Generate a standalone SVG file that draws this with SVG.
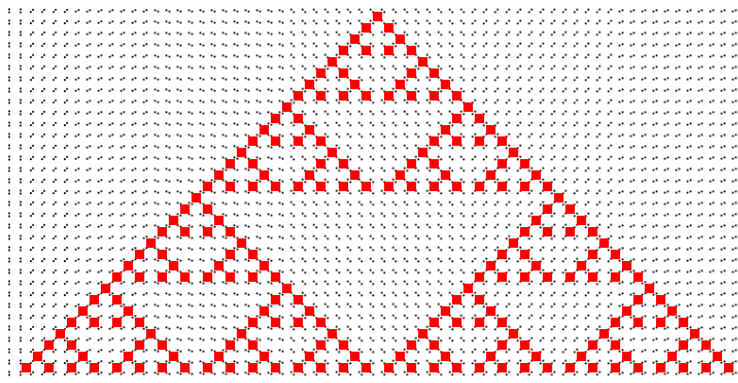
<svg xmlns="http://www.w3.org/2000/svg" xmlns:xlink="http://www.w3.org/1999/xlink" width="738" height="383" viewBox="0 0 738 383">
<style>
.dot{fill:#000}
.cell{fill:#ff0000}
</style>
<defs>
<pattern id="pA" patternUnits="userSpaceOnUse" x="3.6" y="5.17" width="11.33" height="11.33"><rect class="dot" x="4.765" y="3.265" width="1.8" height="1.8"/><rect class="dot" x="4.765" y="6.265" width="1.8" height="1.8"/></pattern>
<pattern id="pB" patternUnits="userSpaceOnUse" x="3.6" y="5.17" width="11.33" height="11.33"><rect class="dot" x="3.665" y="5.865" width="1.8" height="1.8"/><rect class="dot" x="5.865" y="3.665" width="1.8" height="1.8"/></pattern>
<pattern id="pC" patternUnits="userSpaceOnUse" x="3.6" y="5.17" width="11.33" height="11.33"><rect class="dot" x="3.365" y="5.465" width="1.8" height="1.8"/><rect class="dot" x="6.165" y="4.065" width="1.8" height="1.8"/></pattern>
<pattern id="pD" patternUnits="userSpaceOnUse" x="3.6" y="5.17" width="11.33" height="11.33"><rect class="dot" x="3.265" y="4.165" width="1.8" height="1.8"/><rect class="dot" x="6.265" y="5.365" width="1.8" height="1.8"/></pattern>
<pattern id="pE" patternUnits="userSpaceOnUse" x="3.6" y="5.17" width="11.33" height="11.33"><rect class="dot" x="3.465" y="3.465" width="1.8" height="1.8"/><rect class="dot" x="6.065" y="6.065" width="1.8" height="1.8"/></pattern>
<pattern id="pF" patternUnits="userSpaceOnUse" x="3.6" y="5.17" width="11.33" height="11.33"><rect class="dot" x="3.465" y="6.065" width="1.8" height="1.8"/><rect class="dot" x="6.065" y="3.465" width="1.8" height="1.8"/></pattern>
<pattern id="pG" patternUnits="userSpaceOnUse" x="3.6" y="5.17" width="11.33" height="11.33"><rect class="dot" x="3.265" y="5.365" width="1.8" height="1.8"/><rect class="dot" x="6.265" y="4.165" width="1.8" height="1.8"/></pattern>
<rect id="t0" class="cell" x="-4.7" y="-4.7" width="9.4" height="9.4"/>
<g id="t1"><use xlink:href="#t0" href="#t0"/><use xlink:href="#t0" href="#t0" x="-11.33" y="11.33"/><use xlink:href="#t0" href="#t0" x="11.33" y="11.33"/></g>
<g id="t2"><use xlink:href="#t1" href="#t1"/><use xlink:href="#t1" href="#t1" x="-22.66" y="22.66"/><use xlink:href="#t1" href="#t1" x="22.66" y="22.66"/></g>
<g id="t3"><use xlink:href="#t2" href="#t2"/><use xlink:href="#t2" href="#t2" x="-45.32" y="45.32"/><use xlink:href="#t2" href="#t2" x="45.32" y="45.32"/></g>
<g id="t4"><use xlink:href="#t3" href="#t3"/><use xlink:href="#t3" href="#t3" x="-90.64" y="90.64"/><use xlink:href="#t3" href="#t3" x="90.64" y="90.64"/></g>
<g id="t5"><use xlink:href="#t4" href="#t4"/><use xlink:href="#t4" href="#t4" x="-181.28" y="181.28"/><use xlink:href="#t4" href="#t4" x="181.28" y="181.28"/></g>
</defs>
<rect width="738" height="383" fill="#ffffff"/>
<g id="grid-dots">
<rect x="0" y="5" width="26.26" height="374" fill="url(#pA)"/>
<rect x="26.26" y="5" width="45.32" height="374" fill="url(#pB)"/>
<rect x="71.58" y="5" width="79.32" height="374" fill="url(#pC)"/>
<rect x="150.9" y="5" width="135.9" height="374" fill="url(#pD)"/>
<rect x="286.8" y="5" width="181.3" height="374" fill="url(#pE)"/>
<rect x="468.1" y="5" width="147.3" height="374" fill="url(#pF)"/>
<rect x="615.4" y="5" width="122.6" height="374" fill="url(#pG)"/>
</g>
<g id="sierpinski">
<use xlink:href="#t5" href="#t5" x="377.5" y="16.5"/>
</g>
</svg>
